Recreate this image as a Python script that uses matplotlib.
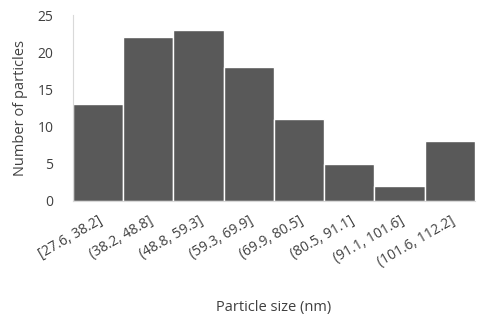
import matplotlib
matplotlib.use("Agg")
import matplotlib.pyplot as plt

categories = ["[27.6, 38.2]", "(38.2, 48.8]", "(48.8, 59.3]", "(59.3, 69.9]",
              "(69.9, 80.5]", "(80.5, 91.1]", "(91.1, 101.6]", "(101.6, 112.2]"]
counts = [13, 22, 23, 18, 11, 5, 2, 8]
yticks = [0, 5, 10, 15, 20, 25]

plt.rcParams['font.family'] = ['Open Sans', 'DejaVu Sans']
fig = plt.figure(figsize=(4.83, 3.2), dpi=100)
ax = fig.add_axes([0.151, 0.372, 0.832, 0.581])
x = list(range(len(categories)))
ax.bar(x, counts, width=1.0, color="#595959", edgecolor="white", linewidth=1.0)
ax.set_xlim(-0.5, len(categories) - 0.5)
ax.set_ylim(0, 25)
ax.set_yticks(yticks)
ax.set_xticks(x)
ax.set_xticklabels(categories, rotation=30, ha="right", rotation_mode="anchor", fontsize=10, color="#404040")
ax.tick_params(axis="y", labelsize=10, labelcolor="#404040", length=0, pad=14)
ax.tick_params(axis="x", length=0, pad=9)
for s in ["top", "right"]:
    ax.spines[s].set_visible(False)
ax.spines["left"].set_color("#d9d9d9")
ax.spines["bottom"].set_color("#d9d9d9")
ax.set_ylabel("Number of particles", fontsize=10.5, color="#404040", labelpad=7)
ax.set_xlabel("Particle size (nm)", fontsize=10.5, color="#404040", labelpad=22)
fig.savefig("out.png", dpi=100)
